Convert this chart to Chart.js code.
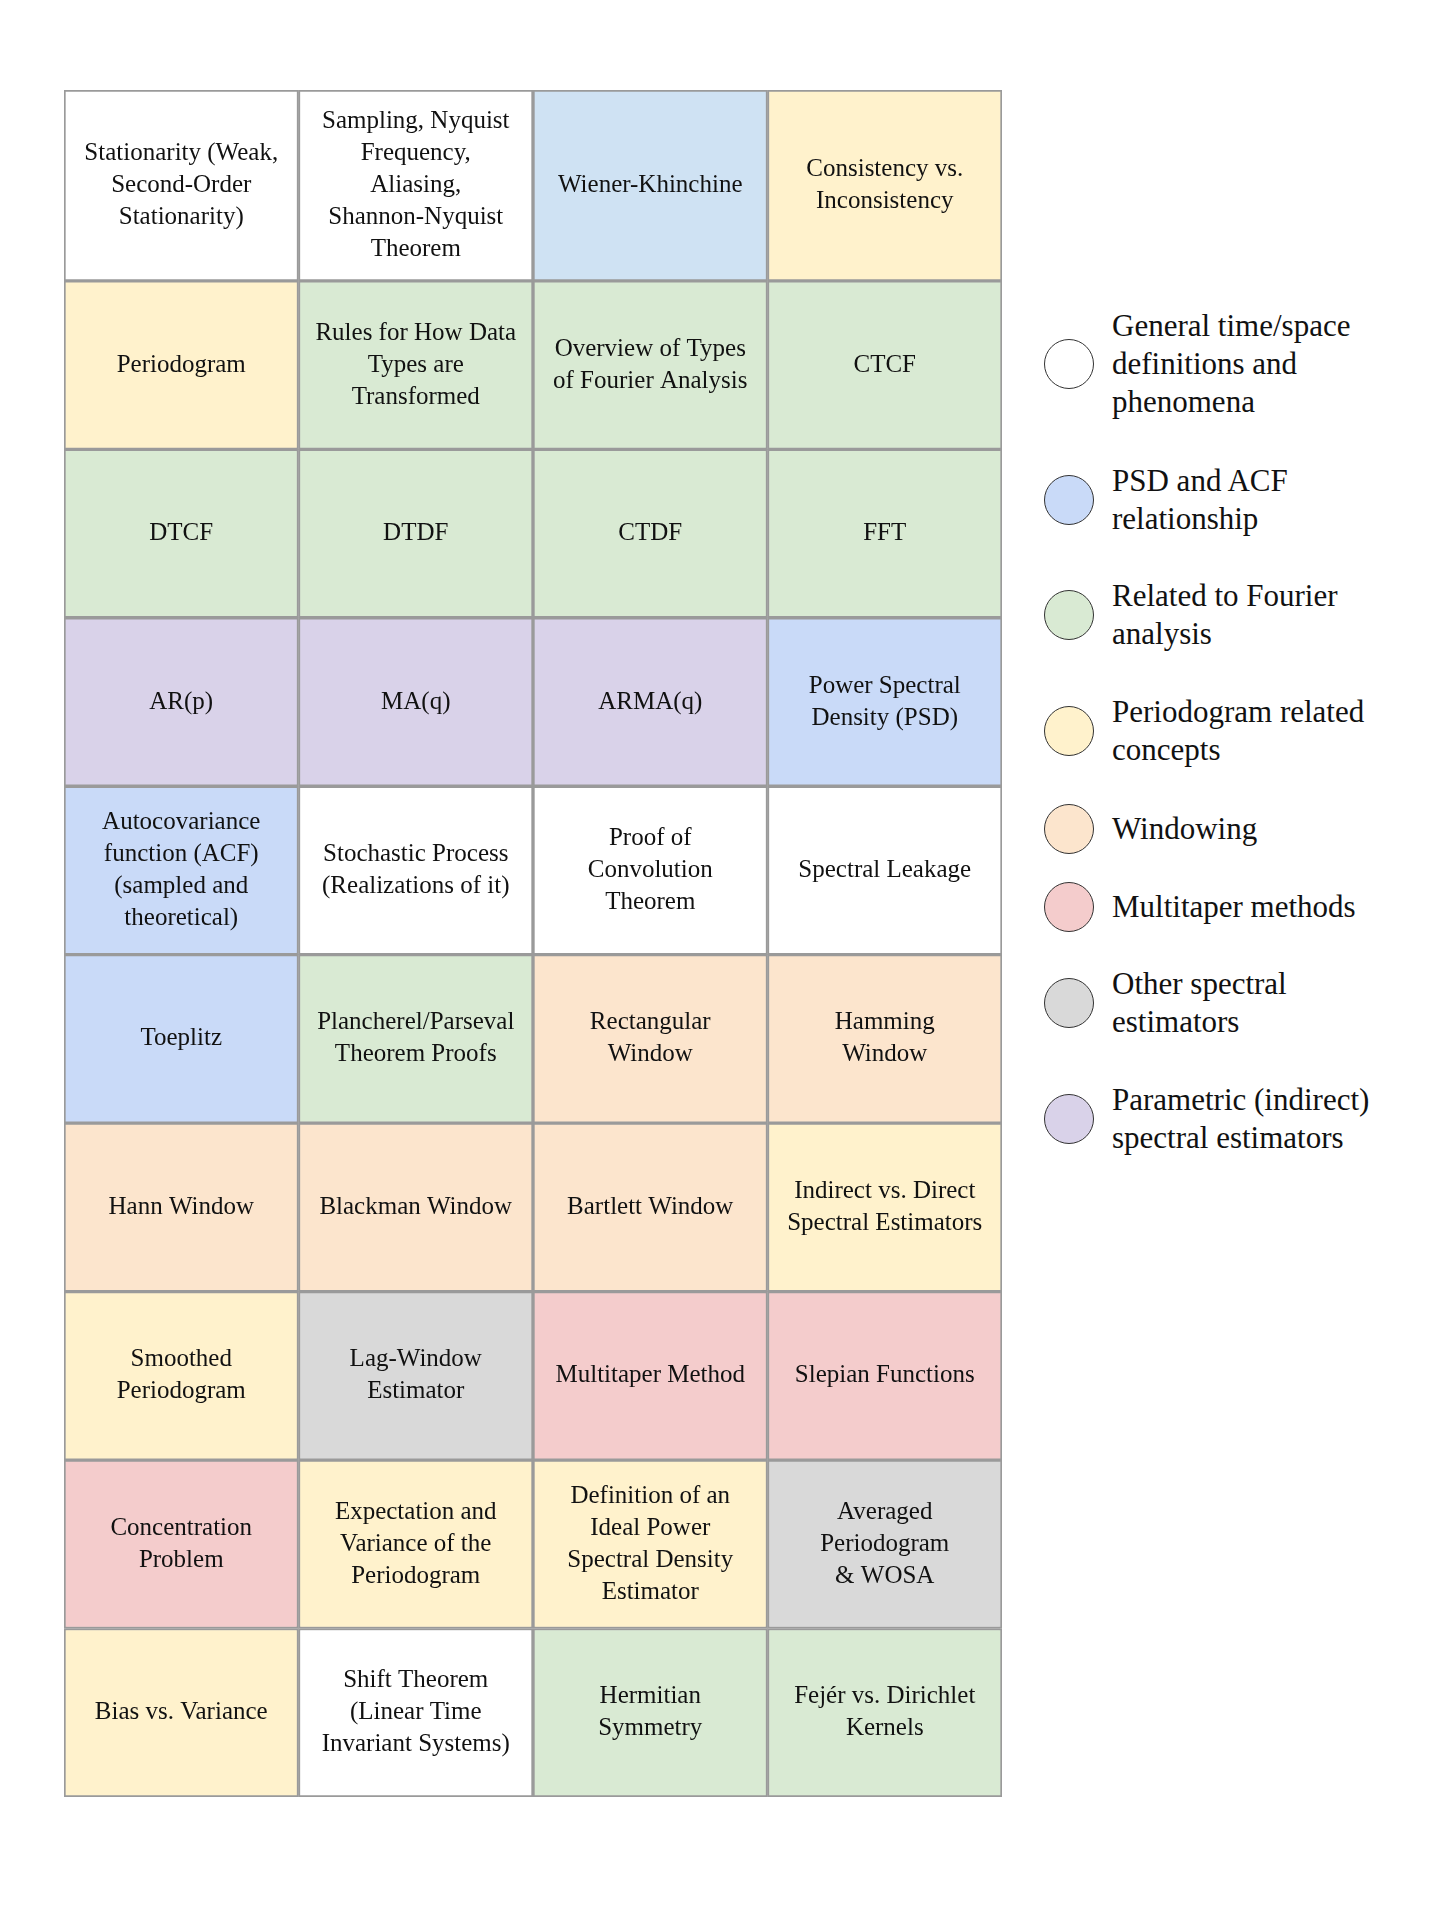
<!DOCTYPE html>
<html>
<head>
<meta charset="utf-8">
<script src="https://cdn.jsdelivr.net/npm/chart.js@4"></script>
<style>
  body { margin: 0; background: #fff; width: 1440px; height: 1920px; position: relative; font-family: "Liberation Serif", serif; }
  #wrap { position: absolute; left: 62px; top: 88px; width: 942px; height: 1711px; }
  .leg { position: absolute; left: 1044px; display: flex; align-items: center; font-size: 31px; line-height: 38px; color: #111; }
  .leg i { width: 50px; height: 50px; border-radius: 50%; border: 1.5px solid #333; box-sizing: border-box; margin-right: 18px; flex: none; }
</style>
</head>
<body>
<div id="wrap"><canvas id="grid"></canvas></div>
<div id="legend"></div>
<script>
const C = {
  white: '#ffffff', wk: '#cfe2f3', blue: '#c9daf8', green: '#d9ead3', yellow: '#fff2cc',
  orange: '#fce5cd', red: '#f4cccc', gray: '#d9d9d9', purple: '#d9d2e9'
};

const rowHeights = [1.133, 1, 1, 1, 1, 1, 1, 1, 1, 1];

const cellLabels = [
  ['Stationarity (Weak,\nSecond-Order\nStationarity)', 'Sampling, Nyquist\nFrequency,\nAliasing,\nShannon-Nyquist\nTheorem', 'Wiener-Khinchine', 'Consistency vs.\nInconsistency'],
  ['Periodogram', 'Rules for How Data\nTypes are\nTransformed', 'Overview of Types\nof Fourier Analysis', 'CTCF'],
  ['DTCF', 'DTDF', 'CTDF', 'FFT'],
  ['AR(p)', 'MA(q)', 'ARMA(q)', 'Power Spectral\nDensity (PSD)'],
  ['Autocovariance\nfunction (ACF)\n(sampled and\ntheoretical)', 'Stochastic Process\n(Realizations of it)', 'Proof of\nConvolution\nTheorem', 'Spectral Leakage'],
  ['Toeplitz', 'Plancherel/Parseval\nTheorem Proofs', 'Rectangular\nWindow', 'Hamming\nWindow'],
  ['Hann Window', 'Blackman Window', 'Bartlett Window', 'Indirect vs. Direct\nSpectral Estimators'],
  ['Smoothed\nPeriodogram', 'Lag-Window\nEstimator', 'Multitaper Method', 'Slepian Functions'],
  ['Concentration\nProblem', 'Expectation and\nVariance of the\nPeriodogram', 'Definition of an\nIdeal Power\nSpectral Density\nEstimator', 'Averaged\nPeriodogram\n& WOSA'],
  ['Bias vs. Variance', 'Shift Theorem\n(Linear Time\nInvariant Systems)', 'Hermitian\nSymmetry', 'Fejér vs. Dirichlet\nKernels']
];

const cellColors = [
  [C.white, C.white, C.wk, C.yellow],
  [C.yellow, C.green, C.green, C.green],
  [C.green, C.green, C.green, C.green],
  [C.purple, C.purple, C.purple, C.blue],
  [C.blue, C.white, C.white, C.white],
  [C.blue, C.green, C.orange, C.orange],
  [C.orange, C.orange, C.orange, C.yellow],
  [C.yellow, C.gray, C.red, C.red],
  [C.red, C.yellow, C.yellow, C.gray],
  [C.yellow, C.white, C.green, C.green]
];

const legendLabels = [
  'General time/space\ndefinitions and\nphenomena', 'PSD and ACF\nrelationship', 'Related to Fourier\nanalysis',
  'Periodogram related\nconcepts', 'Windowing', 'Multitaper methods', 'Other spectral\nestimators',
  'Parametric (indirect)\nspectral estimators'
];
const legendColors = [C.white, C.blue, C.green, C.yellow, C.orange, C.red, C.gray, C.purple];
const legendY = [364, 500, 615, 731, 829, 907, 1003, 1119];

const cellText = {
  id: 'cellText',
  afterDatasetsDraw(chart) {
    const ctx = chart.ctx;
    ctx.save();
    ctx.font = '25px "Liberation Serif", serif';
    ctx.fillStyle = '#111';
    ctx.textAlign = 'center';
    ctx.textBaseline = 'middle';
    chart.data.datasets.forEach((ds, r) => {
      chart.getDatasetMeta(r).data.forEach((bar, c) => {
        const lines = cellLabels[r][c].split('\n');
        const cy = (bar.y + bar.base) / 2;
        lines.forEach((ln, k) => ctx.fillText(ln, bar.x, cy + (k - (lines.length - 1) / 2) * 32));
      });
    });
    ctx.restore();
  }
};

new Chart(document.getElementById('grid'), {
  type: 'bar',
  data: {
    labels: ['c1', 'c2', 'c3', 'c4'],
    datasets: rowHeights.map((h, r) => ({
      data: [h, h, h, h],
      backgroundColor: cellColors[r],
      borderColor: '#9a9a9a',
      borderWidth: 2,
      borderSkipped: false,
      barPercentage: 1,
      categoryPercentage: 1
    }))
  },
  options: {
    responsive: true,
    maintainAspectRatio: false,
    animation: false,
    layout: { padding: 2 },
    plugins: { legend: { display: false }, tooltip: { enabled: false } },
    scales: {
      x: { stacked: true, display: false },
      y: { stacked: true, display: false, reverse: true, min: 0, max: rowHeights.reduce((a, b) => a + b, 0) }
    }
  },
  plugins: [cellText]
});

const legend = document.getElementById('legend');
legendLabels.forEach((t, i) => {
  const d = document.createElement('div');
  d.className = 'leg';
  d.innerHTML = '<i style="background:' + legendColors[i] + '"></i><span>' + t.replace(/\n/g, '<br>') + '</span>';
  legend.appendChild(d);
  d.style.top = (legendY[i] - d.offsetHeight / 2) + 'px';
});
</script>
</body>
</html>
